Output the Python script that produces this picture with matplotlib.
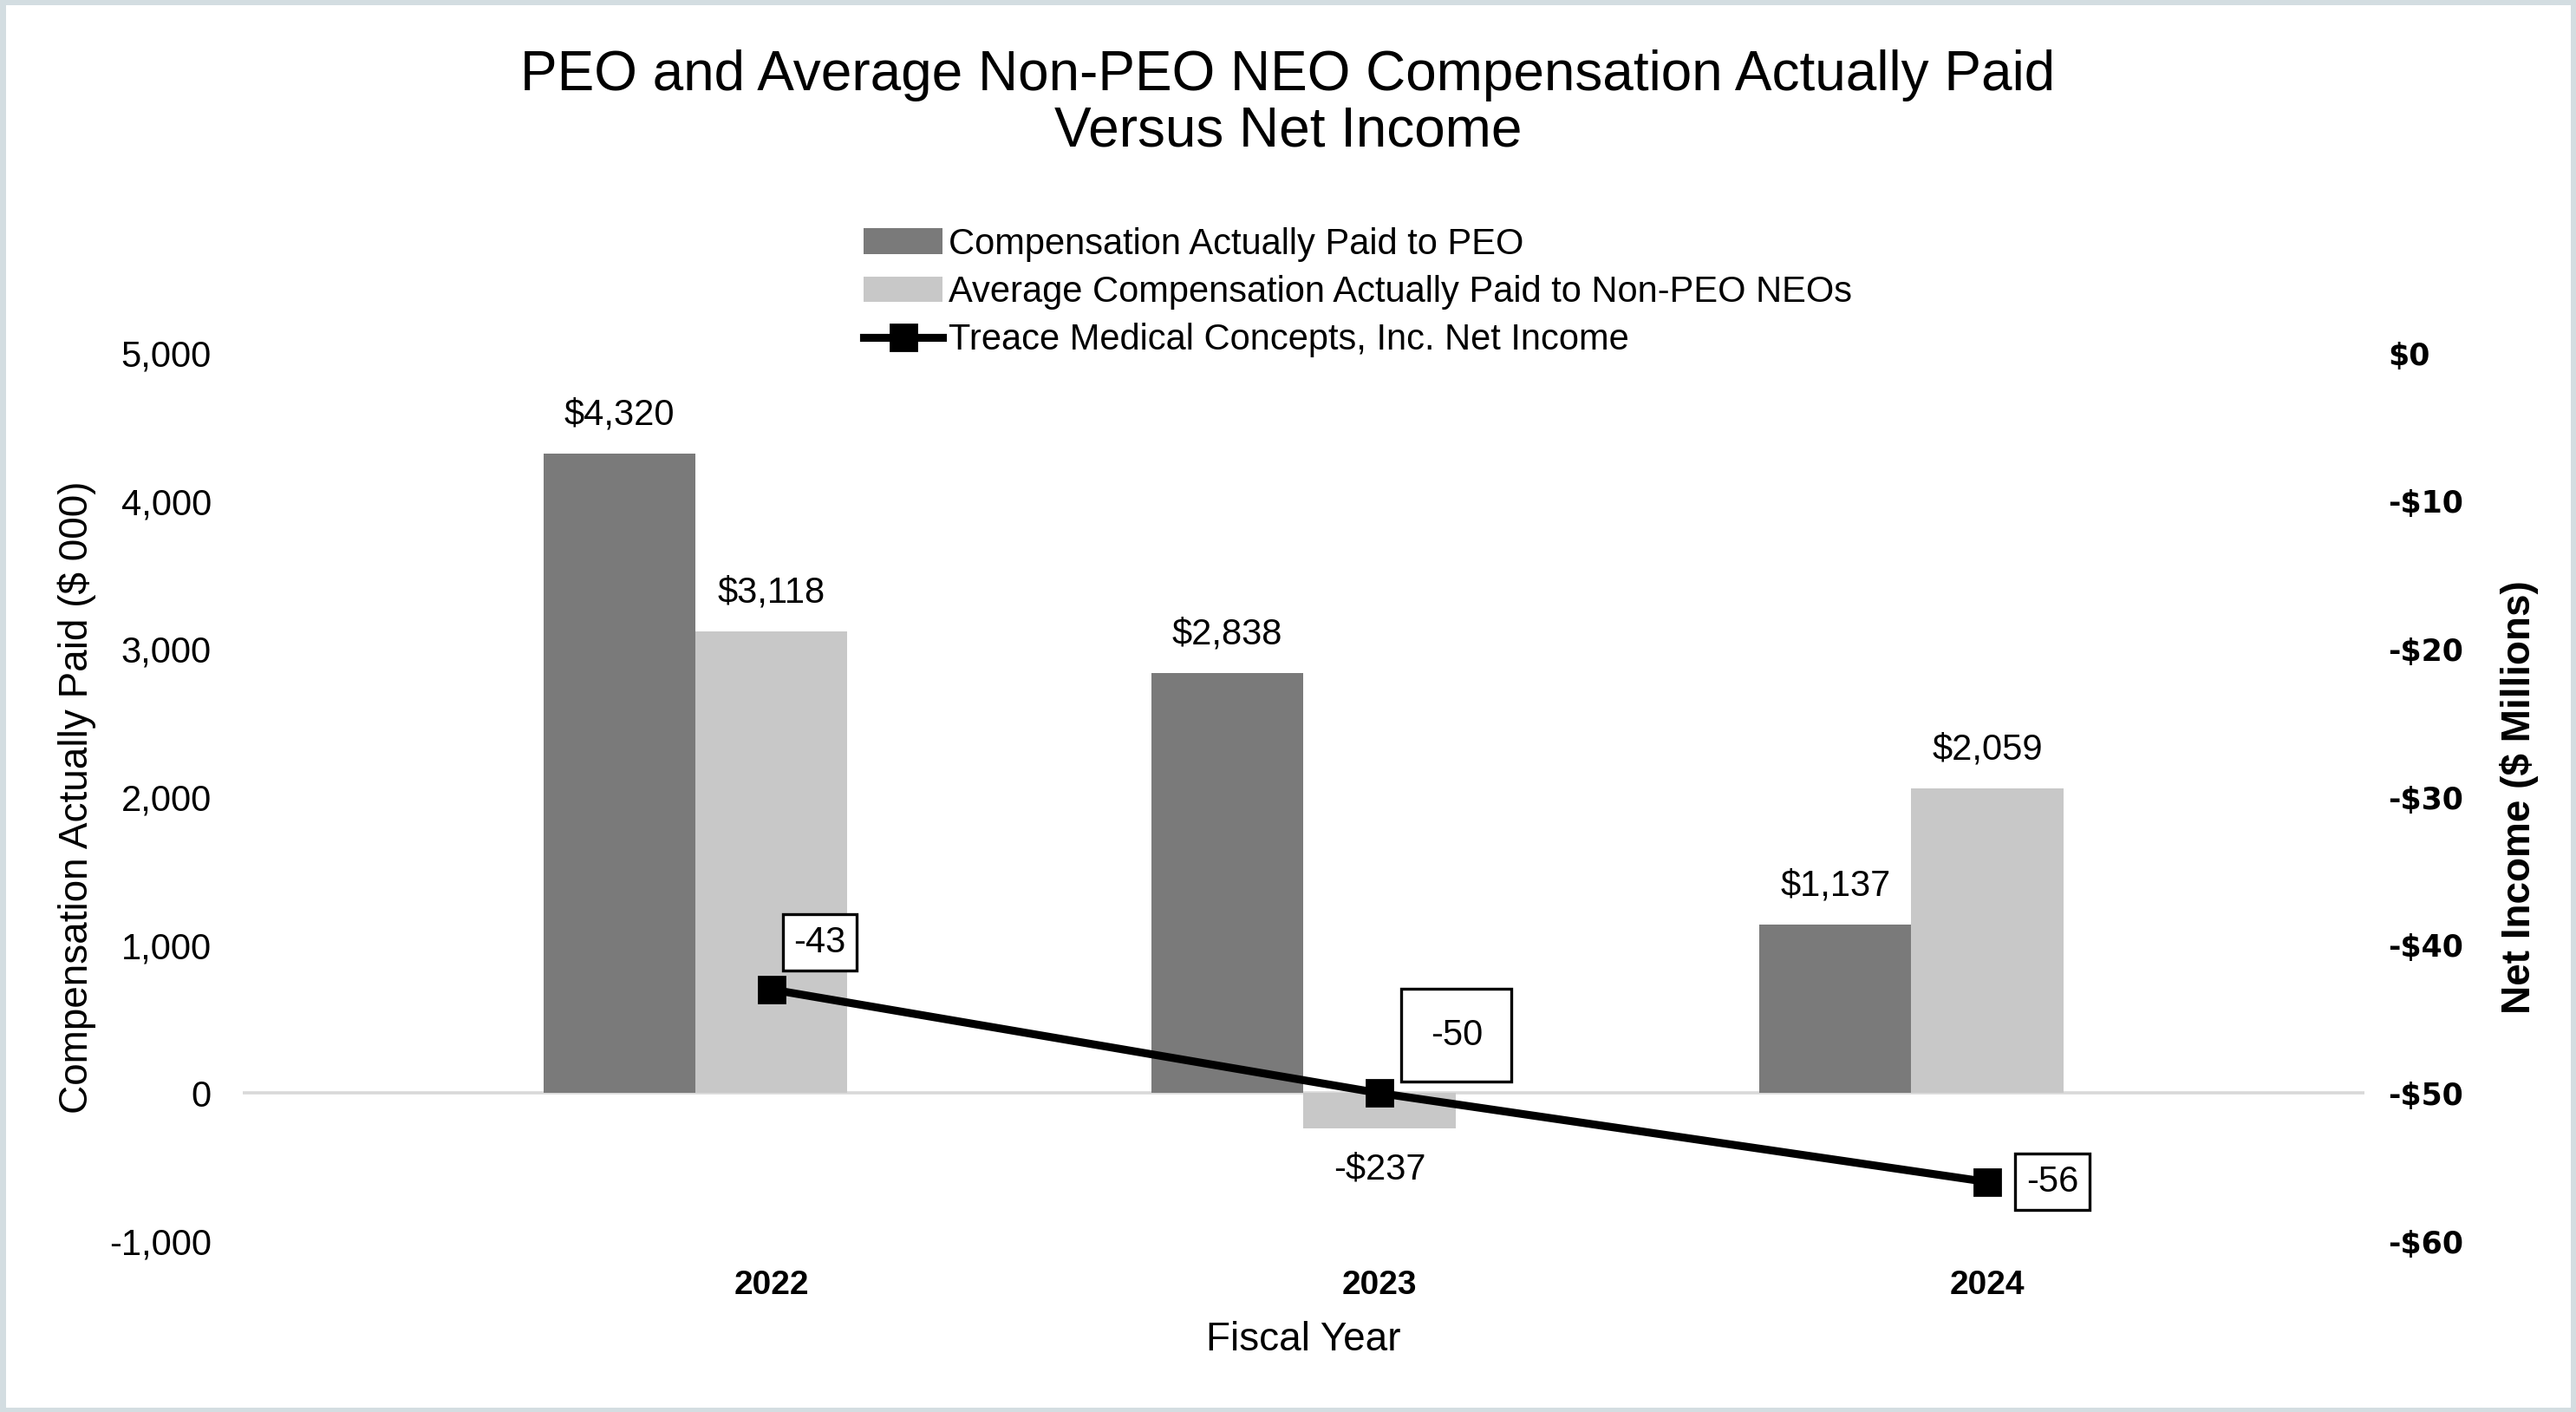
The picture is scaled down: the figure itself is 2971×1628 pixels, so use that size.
import numpy as np
import matplotlib
matplotlib.use("Agg")
import matplotlib.pyplot as plt
from matplotlib.patches import Rectangle

plt.rcParams['font.family'] = ['Liberation Sans', 'DejaVu Sans']

# data
years = ['2022', '2023', '2024']
peo_cap = [4320, 2838, 1137]          # $ 000
neo_cap = [3118, -237, 2059]          # $ 000
net_income = [-43, -50, -56]          # $ millions

peo_color = '#7a7a7a'
neo_color = '#c8c8c8'

fig = plt.figure(figsize=(2971 / 200, 1628 / 200), dpi=200)
ax = fig.add_axes([0.0942, 0.121, 0.8236, 0.629])

x = np.arange(len(years))
w = 0.25
b1 = ax.bar(x - w, peo_cap, w, color=peo_color, zorder=2,
            label='Compensation Actually Paid to PEO')
b2 = ax.bar(x, neo_cap, w, color=neo_color, zorder=2,
            label='Average Compensation Actually Paid to Non-PEO NEOs')
ax.axhline(0, color='#d9d9d9', lw=1.3, zorder=1)

# bar value labels
for bars in (b1, b2):
    for r in bars:
        v = r.get_height()
        cx = r.get_x() + r.get_width() / 2
        lab = f"${v:,.0f}" if v >= 0 else f"-${abs(v):,.0f}"
        off = 16 if v >= 0 else -17
        ax.annotate(lab, (cx, v), xytext=(0, off), textcoords='offset points',
                    ha='center', va='center', fontsize=15)

ax.set_xlim(-0.87, 2.62)
ax.set_ylim(-1000, 5000)
ax.set_yticks(np.arange(-1000, 5001, 1000))
ax.set_yticklabels([f"{t:,}" for t in range(-1000, 5001, 1000)], fontsize=15)
ax.set_xticks(x)
ax.set_xticklabels(years, fontsize=14, fontweight='bold')
ax.tick_params(axis='both', length=0)
ax.tick_params(axis='y', pad=13)
ax.tick_params(axis='x', pad=12)
for s in ax.spines.values():
    s.set_visible(False)
ax.set_ylabel('Compensation Actually Paid ($ 000)', fontsize=16.5)
ax.yaxis.set_label_coords(-0.069, 0.5)
ax.set_xlabel('Fiscal Year', fontsize=16.5, labelpad=8)

# net income line on the secondary axis
ax2 = ax.twinx()
ln, = ax2.plot(x, net_income, color='black', lw=3.3, marker='s', ms=10.5,
               zorder=3, label='Treace Medical Concepts, Inc. Net Income')
ax2.set_ylim(-60, 0)
ax2.set_yticks(np.arange(-60, 1, 10))
ax2.set_yticklabels([f"-${abs(t)}" if t < 0 else "$0" for t in range(-60, 1, 10)],
                    fontsize=12.5, fontweight='bold', family='DejaVu Sans')
ax2.tick_params(axis='y', length=0, pad=10)
for s in ax2.spines.values():
    s.set_visible(False)
ax2.set_ylabel('Net Income ($ Millions)', fontsize=16.5, fontweight='bold')
ax2.yaxis.set_label_coords(1.064, 0.5)

# boxed labels on the line
offsets = [(20, 19.5), (32, 24), (27, 0)]
pads = [0.3, 0.8, 0.3]
for xi, v, off, p in zip(x, net_income, offsets, pads):
    ax2.annotate(f"{v}", (xi, v), xytext=off, textcoords='offset points',
                 ha='center', va='center', fontsize=15,
                 bbox=dict(boxstyle=f'square,pad={p}', fc='white', ec='black', lw=1.2))

fig.suptitle('PEO and Average Non-PEO NEO Compensation Actually Paid\nVersus Net Income',
             fontsize=23, y=0.965, linespacing=1.1)

fig.legend(handles=[b1, b2, ln], loc='center', bbox_to_anchor=(0.527, 0.793),
           frameon=False, fontsize=15, handlelength=2.2, handletextpad=0.15,
           labelspacing=0.37, borderpad=0)

fig.patches.append(Rectangle((0.001, 0.001), 0.998, 0.998, transform=fig.transFigure,
                             fill=False, ec='#d3dde1', lw=2.5))

fig.savefig('out.png', dpi=200, facecolor='white')
